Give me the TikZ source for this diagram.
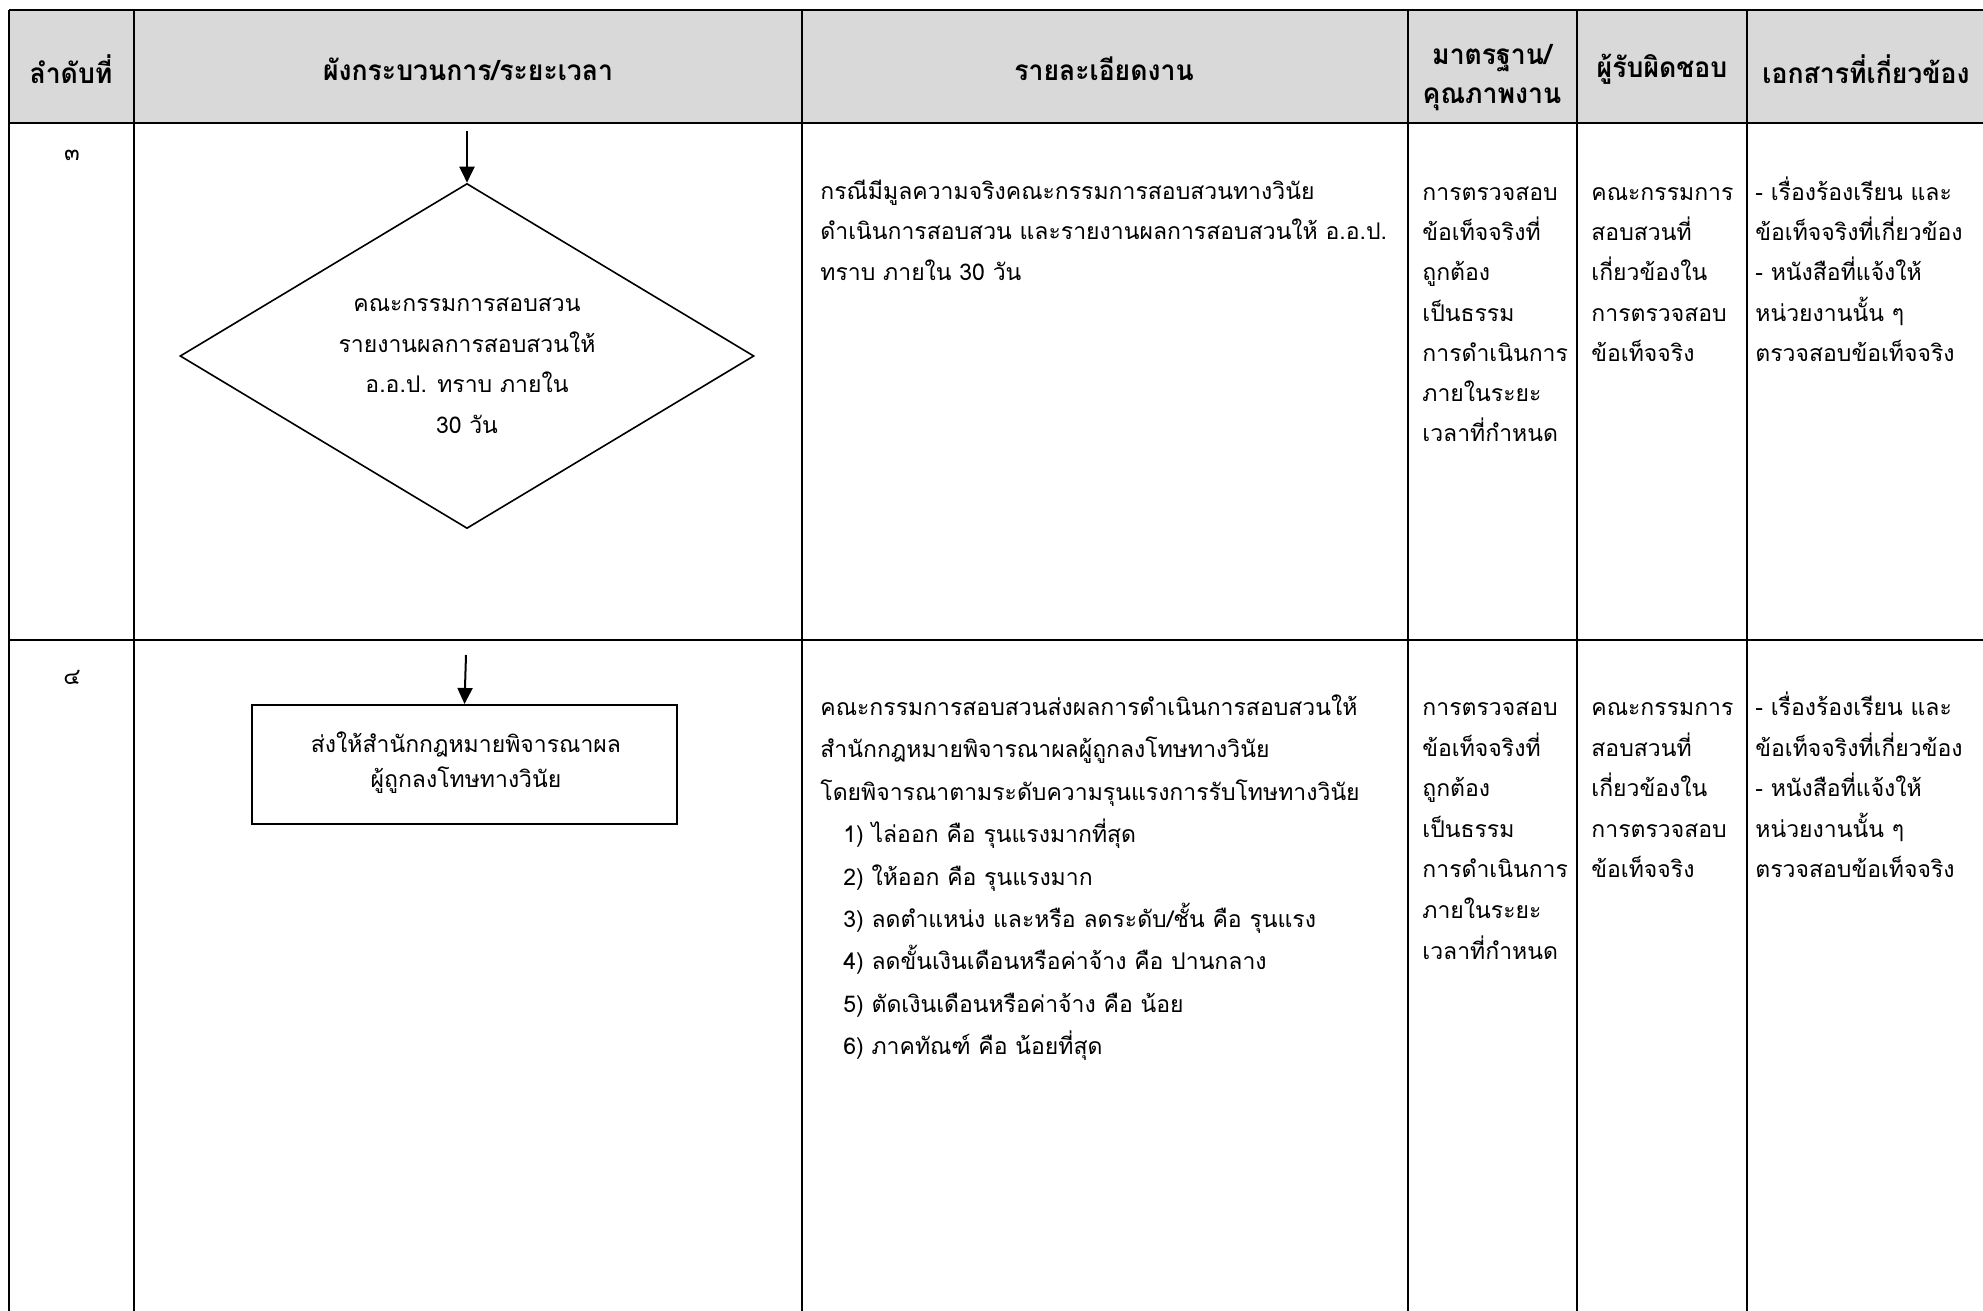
\documentclass[tikz,border=0pt]{standalone}
\usepackage{fontspec}
\newfontfamily\thai[Script=Thai]{Loma}
\newfontfamily\thaihead[Script=Thai,FakeStretch=0.95]{Loma}
\usetikzlibrary{arrows.meta,shapes.geometric}
\definecolor{hdrgray}{HTML}{D9D9D9}
\newcommand{\fl}{\rule{0pt}{15pt}}
\begin{document}
\begin{tikzpicture}[x=0.5pt,y=-0.5pt,
  grid/.style={line width=1pt,black},
  hgrid/.style={line width=1.4pt,black},
  hdrtext/.style={font=\thaihead\bfseries\fontsize{14}{19.5}\selectfont,align=center,inner sep=0pt},
  celltext/.style={font=\thai\fontsize{11.5}{20.1}\selectfont,align=left,inner sep=0pt,anchor=north west},
  numtext/.style={font=\thai\fontsize{11.5}{20.5}\selectfont,inner sep=0pt},
  flowtext/.style={font=\thai\fontsize{11.5}{20.25}\selectfont,align=center,inner sep=0pt},
  arr/.style={line width=1pt,-{Triangle[length=8pt,width=7.5pt]}}]
\useasboundingbox (0,0) rectangle (1983,1311);
% header background
\fill[hdrgray] (9,10) rectangle (1983,123);
% grid lines
\draw[hgrid] (9,10) -- (1983,10);
\draw[hgrid] (9,123) -- (1983,123);
\draw[grid] (9,640) -- (1983,640);
\foreach \x in {9,134,802,1408,1577,1747} \draw[grid] (\x,10) -- (\x,1311);
% header texts
\node[hdrtext] (h1) at (71,69) {ลำดับที่};
\node[hdrtext] (h2) at (468,69) {ผังกระบวนการ/ระยะเวลา};
\node[hdrtext] (h3) at (1104,69) {รายละเอียดงาน};
\node[hdrtext] (h4) at (1492,78) {มาตรฐาน/\\คุณภาพงาน};
\node[hdrtext] (h5) at (1662,69) {ผู้รับผิดชอบ};
\node[hdrtext] (h6) at (1866,69) {เอกสารที่เกี่ยวข้อง};
% row 3
\node[numtext] (n3) at (72,155) {๓};
\coordinate (s3) at (467,131);
\node[diamond,draw,line width=0.8pt,aspect=1.66,minimum width=287pt,minimum height=172.5pt,inner sep=0pt] (d3) at (467,356) {};
\node[flowtext] (d3t) at (467,366) {คณะกรรมการสอบสวน\\รายงานผลการสอบสวนให้\\อ.อ.ป. ทราบ ภายใน\\30 วัน};
\draw[arr] (s3) -- (d3.north);
\node[celltext,font=\thai\fontsize{11.5}{20.25}\selectfont] (t3) at (820,169) {\fl กรณีมีมูลความจริงคณะกรรมการสอบสวนทางวินัย\\ดำเนินการสอบสวน และรายงานผลการสอบสวนให้ อ.อ.ป.\\ทราบ ภายใน 30 วัน};
\node[celltext] (q3) at (1422,170) {\fl การตรวจสอบ\\ข้อเท็จจริงที่\\ถูกต้อง\\เป็นธรรม\\การดำเนินการ\\ภายในระยะ\\เวลาที่กำหนด};
\node[celltext] (r3) at (1591,170) {\fl คณะกรรมการ\\สอบสวนที่\\เกี่ยวข้องใน\\การตรวจสอบ\\ข้อเท็จจริง};
\node[celltext] (o3) at (1755,170) {\fl - เรื่องร้องเรียน และ\\ข้อเท็จจริงที่เกี่ยวข้อง\\- หนังสือที่แจ้งให้\\หน่วยงานนั้น ๆ\\ตรวจสอบข้อเท็จจริง};
% row 4
\node[numtext] (n4) at (72,677) {๔};
\coordinate (s4) at (466,655);
\node[draw,line width=1pt,minimum width=212.5pt,minimum height=59.5pt,inner sep=0pt] (b4) at (464.5,764.5) {};
\node[flowtext,font=\thai\fontsize{11.5}{17.5}\selectfont] (b4t) at (466,763)
      {ส่งให้สำนักกฎหมายพิจารณาผล\\ผู้ถูกลงโทษทางวินัย};
\draw[arr] (s4) -- (b4.north);
\node[celltext,font=\thai\fontsize{11.5}{21.2}\selectfont] (t4) at (820,685) {\fl คณะกรรมการสอบสวนส่งผลการดำเนินการสอบสวนให้\\สำนักกฎหมายพิจารณาผลผู้ถูกลงโทษทางวินัย\\โดยพิจารณาตามระดับความรุนแรงการรับโทษทางวินัย\\\hspace*{11.5pt}1) ไล่ออก คือ รุนแรงมากที่สุด\\\hspace*{11.5pt}2) ให้ออก คือ รุนแรงมาก\\\hspace*{11.5pt}3) ลดตำแหน่ง และหรือ ลดระดับ/ชั้น คือ รุนแรง\\\hspace*{11.5pt}4) ลดขั้นเงินเดือนหรือค่าจ้าง คือ ปานกลาง\\\hspace*{11.5pt}5) ตัดเงินเดือนหรือค่าจ้าง คือ น้อย\\\hspace*{11.5pt}6) ภาคทัณฑ์ คือ น้อยที่สุด};
\node[celltext,font=\thai\fontsize{11.5}{20.3}\selectfont] (q4) at (1422,685) {\fl การตรวจสอบ\\ข้อเท็จจริงที่\\ถูกต้อง\\เป็นธรรม\\การดำเนินการ\\ภายในระยะ\\เวลาที่กำหนด};
\node[celltext,font=\thai\fontsize{11.5}{20.3}\selectfont] (r4) at (1591,685) {\fl คณะกรรมการ\\สอบสวนที่\\เกี่ยวข้องใน\\การตรวจสอบ\\ข้อเท็จจริง};
\node[celltext,font=\thai\fontsize{11.5}{20.3}\selectfont] (o4) at (1755,685) {\fl - เรื่องร้องเรียน และ\\ข้อเท็จจริงที่เกี่ยวข้อง\\- หนังสือที่แจ้งให้\\หน่วยงานนั้น ๆ\\ตรวจสอบข้อเท็จจริง};
\end{tikzpicture}
\end{document}
